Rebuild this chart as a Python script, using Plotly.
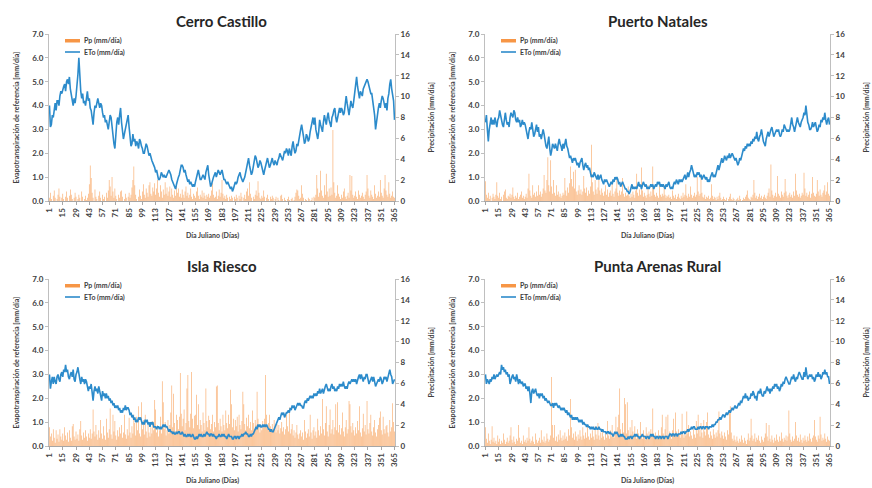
import plotly.graph_objects as go

# ---------------- data ----------------
days = list(range(1, 366))
tick_days = list(range(1, 366, 14))
stations = ["Cerro Castillo", "Puerto Natales", "Isla Riesco", "Punta Arenas Rural"]
legend_names = ["Pp (mm/día)", "ETo (mm/día)"]

cc_eto = [
    4.0, 3.1, 3.2, 3.6, 3.5, 3.9, 4.1, 3.8, 4.2, 4.2, 4.0, 4.4, 4.6, 4.5,
    4.7, 4.8, 4.9, 4.6, 5.0, 5.1, 4.9, 5.2, 4.7, 4.4, 4.3, 4.0, 4.3, 4.1,
    4.4, 4.8, 5.3, 6.0, 5.1, 4.6, 4.3, 4.5, 4.1, 4.2, 4.0, 4.4, 4.6, 4.2,
    4.3, 3.9, 3.8, 3.5, 3.2, 3.7, 4.0, 3.9, 4.1, 4.3, 4.1, 3.9, 4.1, 4.0,
    3.7, 3.5, 3.6, 3.3, 3.4, 3.1, 3.0, 3.3, 3.6, 3.5, 3.0, 2.7, 2.4, 2.2,
    2.8, 3.3, 3.5, 3.2, 3.6, 3.9, 3.3, 2.9, 2.6, 2.8, 3.0, 3.2, 3.4, 3.6,
    3.1, 2.6, 2.3, 2.4, 2.8, 2.5, 2.6, 2.3, 2.5, 2.4, 2.2, 2.6, 2.5, 2.3,
    2.2, 2.0, 2.0, 2.2, 2.4, 2.3, 2.1, 1.9, 2.0, 1.8, 1.7, 1.6, 1.5, 1.4,
    1.2, 1.3, 1.1, 0.9, 0.9, 1.0, 1.2, 1.1, 1.0, 1.1, 1.0, 1.0, 1.1, 1.2,
    1.3, 1.2, 1.1, 0.9, 0.8, 0.7, 0.6, 0.5, 0.7, 0.9, 1.0, 1.1, 1.3, 1.5,
    1.5, 1.4, 1.2, 1.3, 1.1, 0.9, 0.8, 0.9, 0.7, 0.8, 0.7, 0.6, 0.7, 0.6,
    0.8, 1.0, 1.1, 1.3, 1.1, 0.9, 0.9, 1.0, 1.1, 1.0, 0.9, 1.2, 1.4, 1.5,
    1.1, 0.8, 0.6, 0.7, 0.9, 1.0, 1.1, 1.2, 1.0, 1.2, 1.3, 1.2, 1.1, 1.2,
    1.3, 1.1, 0.9, 0.9, 0.8, 0.7, 0.8, 0.7, 0.6, 0.5, 0.6, 0.4, 0.5, 0.7,
    0.8, 0.7, 0.8, 1.0, 1.1, 1.2, 1.0, 0.9, 0.8, 0.9, 1.0, 1.2, 1.4, 1.6,
    1.8, 1.5, 1.3, 1.1, 1.2, 1.4, 1.6, 1.9, 1.8, 1.6, 1.4, 1.5, 1.7, 1.6,
    1.4, 1.2, 1.1, 1.3, 1.5, 1.7, 1.8, 1.6, 1.4, 1.5, 1.7, 1.8, 1.6, 1.5,
    1.7, 1.6, 1.5, 1.7, 1.8, 2.0, 1.9, 1.8, 1.7, 1.9, 2.1, 2.0, 2.2, 2.1,
    1.9, 2.2, 2.0, 1.9, 2.3, 2.5, 2.2, 2.0, 2.1, 2.4, 2.3, 2.6, 2.8, 3.0,
    3.2, 3.0, 2.7, 2.4, 2.5, 2.8, 2.7, 2.5, 2.6, 2.9, 3.1, 3.3, 3.5, 3.2,
    3.5, 3.0, 2.7, 2.6, 2.9, 3.4, 3.2, 3.0, 2.9, 3.3, 3.6, 3.4, 3.2, 3.5,
    3.7, 3.4, 3.2, 3.1, 3.5, 3.6, 3.8, 3.9, 3.5, 3.3, 3.5, 3.8, 3.9, 3.7,
    3.9, 3.8, 3.6, 3.7, 4.0, 4.4, 4.1, 3.8, 3.6, 3.9, 4.2, 4.0, 3.9, 4.2,
    4.6, 5.0, 5.2, 4.8, 4.5, 4.3, 4.6, 4.5, 4.4, 4.7, 4.8, 4.9, 5.0, 5.1,
    5.0, 4.8, 4.7, 4.5, 4.5, 4.2, 3.9, 3.6, 3.0, 3.4, 3.8, 3.9, 4.1, 3.9,
    4.2, 4.4, 4.3, 4.0, 3.9, 4.1, 3.8, 4.3, 4.5, 4.9, 5.1, 4.7, 4.4, 4.2,
    3.4,
]
cc_pp = [
    0.3, 0.8, 0.2, 0, 0.5, 1.0, 0.3, 0, 0.2, 0.6, 1.2, 0.4, 0, 0.3,
    0.7, 0.2, 0, 0.4, 0.9, 0.3, 0, 0.5, 1.1, 0.6, 0.2, 0, 0.3, 0.8,
    0.4, 0, 0.2, 0.6, 0.3, 0, 0.9, 0.4, 0, 0.2, 0.5, 0.1, 0.3, 0.7,
    1.6, 3.4, 2.2, 0.8, 0.3, 0, 1.1, 0.4, 0.2, 0, 0.5, 0.9, 0.3, 0,
    0.6, 0.2, 0.4, 0, 0.8, 0.3, 1.0, 2.0, 1.4, 0.5, 2.3, 0.9, 0.3, 1.2,
    0.5, 0.2, 0, 0.6, 0.3, 0.9, 1.0, 0.4, 0, 0.2, 0.7, 0.3, 0, 0.4,
    0.8, 0.3, 0.6, 1.3, 2.0, 3.3, 1.5, 0.6, 0.2, 0, 0.4, 1.1, 0.5, 0.2,
    0.9, 1.6, 0.6, 0.3, 1.2, 0.8, 0.4, 1.5, 1.8, 0.7, 0.5, 1.3, 0.9, 1.7,
    0.6, 1.2, 2.0, 0.8, 0.4, 1.5, 0.9, 0.3, 1.1, 0.6, 1.8, 0.7, 1.3, 0.5,
    0.9, 1.4, 0.4, 1.2, 0.6, 0.3, 1.0, 0.5, 1.6, 0.8, 1.2, 0.4, 0.7, 0.3,
    1.1, 0.6, 0.3, 0.9, 1.4, 0.5, 0.8, 0.3, 0.6, 1.2, 0.4, 0.2, 0.7, 0.5,
    0.3, 0.9, 1.3, 0.5, 0.2, 0.6, 0.4, 1.0, 0.3, 0.8, 0.5, 0.2, 0.6, 0.4,
    0.7, 0.3, 0.5, 1.0, 1.7, 0.6, 0.3, 0.4, 0.9, 0.2, 0.5, 1.1, 0.4, 0.8,
    2.0, 0.7, 0.3, 0.5, 0.2, 0.6, 0.3, 0, 0.4, 0.2, 0.5, 0.3, 0, 0.4,
    0.2, 0.6, 0.3, 0, 0.5, 0.2, 0.8, 0.4, 0, 0.3, 0.6, 0.2, 0.9, 1.2,
    0.5, 1.8, 0.7, 0.3, 0, 0.4, 0.2, 0.6, 1.0, 0.5, 1.9, 0.8, 0.3, 0.2,
    0.5, 0.3, 1.0, 0.4, 0, 0.3, 0.6, 0.2, 0, 0.4, 0.2, 0.5, 0.3, 0,
    0.2, 0.4, 0, 0.3, 0.1, 0, 0.5, 0.6, 0.2, 0, 0.3, 0.1, 0, 0.2,
    0.4, 0.1, 0, 0.2, 0.3, 0, 0.1, 0.4, 0.8, 1.1, 1.0, 0.5, 0.2, 0.3,
    1.5, 0.7, 0.3, 0, 0.2, 0.1, 0, 0.3, 0.2, 0, 0.1, 0.3, 0, 0.4,
    0.3, 0.6, 2.5, 1.2, 0.4, 0.8, 2.9, 1.0, 0.5, 0.3, 1.5, 0.6, 2.6, 0.9,
    0.4, 1.2, 0.5, 1.3, 0.6, 6.8, 1.8, 0.8, 0.3, 0.5, 1.5, 0.7, 0.4, 0.2,
    0.6, 0.3, 0.9, 1.2, 0.4, 0.2, 0.5, 0.8, 0.3, 2.5, 1.0, 2.4, 0.6, 0.3,
    0.5, 0.9, 0.4, 0.2, 1.0, 0.6, 0.3, 0.5, 0.8, 0.4, 0.2, 0.6, 0.9, 2.5,
    1.2, 0.5, 0.3, 1.0, 0.6, 0.4, 0.2, 1.5, 0.7, 0.3, 0.5, 0.9, 0.4, 2.0,
    0.8, 0.5, 0.3, 1.2, 2.5, 1.0, 0.6, 0.4, 1.8, 0.7, 0.3, 0.5, 0.9, 0.4,
    0.3,
]

pn_eto = [
    3.3, 3.6, 3.0, 2.5, 3.0, 3.3, 3.5, 3.2, 3.4, 3.2, 3.5, 3.3, 3.1, 3.4,
    3.5, 3.8, 3.6, 3.3, 3.2, 3.1, 3.5, 3.7, 3.4, 3.2, 3.3, 3.1, 3.5, 3.7,
    3.6, 3.5, 3.8, 3.7, 3.4, 3.3, 3.5, 3.3, 3.4, 3.1, 3.2, 3.4, 3.2, 3.3,
    3.2, 3.0, 2.8, 2.6, 2.9, 3.1, 3.0, 3.3, 3.0, 2.7, 2.8, 3.0, 3.2, 2.9,
    3.1, 2.7, 2.8, 2.6, 2.9, 3.0, 2.8, 2.4, 2.3, 2.2, 2.6, 2.7, 2.2, 1.9,
    2.1, 2.4, 2.3, 2.2, 2.4, 2.2, 2.1, 2.4, 2.6, 2.4, 2.3, 2.1, 2.4, 2.2,
    2.5, 2.6, 2.3, 2.2, 2.0, 1.8, 1.9, 1.7, 1.6, 1.8, 1.7, 1.8, 1.6, 1.5,
    1.6, 1.4, 1.6, 1.7, 1.8, 1.5, 1.3, 1.5, 1.6, 1.4, 1.5, 1.3, 1.4, 1.2,
    1.0, 1.1, 1.0, 1.2, 1.1, 1.0, 0.9, 1.1, 0.9, 1.0, 1.1, 0.9, 0.8, 0.7,
    0.9, 0.8, 0.9, 0.8, 0.7, 0.6, 0.7, 0.8, 0.7, 0.9, 0.8, 1.0, 0.9, 1.0,
    0.9, 0.7, 0.8, 0.6, 0.7, 0.8, 0.7, 0.6, 0.5, 0.5, 0.4, 0.4, 0.3, 0.4,
    0.6, 0.7, 0.5, 0.6, 0.5, 0.6, 0.5, 0.7, 0.8, 0.6, 0.7, 0.5, 0.7, 0.8,
    0.7, 0.6, 0.7, 0.5, 0.6, 0.5, 0.6, 0.7, 0.6, 0.7, 0.5, 0.6, 0.7, 0.6,
    0.8, 0.7, 0.8, 0.6, 0.7, 0.6, 0.7, 0.6, 0.5, 0.7, 0.6, 0.7, 0.8, 0.6,
    0.5, 0.6, 0.5, 0.7, 0.8, 0.7, 0.9, 0.8, 0.7, 0.9, 0.8, 0.9, 0.8, 0.9,
    1.0, 1.1, 0.9, 1.0, 1.2, 1.0, 1.2, 1.3, 1.5, 1.3, 1.2, 1.0, 1.1, 1.0,
    1.2, 1.1, 1.2, 1.0, 1.1, 0.9, 1.0, 1.1, 1.0, 0.9, 1.0, 0.8, 0.9, 0.8,
    1.0, 1.1, 1.2, 1.0, 1.1, 1.0, 1.2, 1.4, 1.5, 1.3, 1.5, 1.6, 1.8, 1.6,
    1.7, 1.9, 1.8, 1.7, 1.9, 1.8, 2.0, 1.8, 1.9, 2.0, 1.9, 1.8, 1.7, 1.8,
    1.6, 1.5, 1.6, 1.8, 1.7, 1.9, 2.0, 2.2, 2.1, 2.3, 2.2, 2.4, 2.3, 2.4,
    2.3, 2.5, 2.4, 2.6, 2.5, 2.7, 2.6, 2.9, 2.6, 2.5, 2.7, 2.8, 3.0, 2.7,
    2.5, 2.4, 2.3, 2.6, 2.8, 2.9, 2.7, 2.9, 3.0, 3.1, 2.8, 2.7, 2.8, 2.9,
    3.0, 2.9, 3.0, 2.8, 2.7, 2.8, 3.0, 2.9, 3.2, 3.1, 3.0, 2.9, 3.0, 2.9,
    3.0, 3.3, 3.5, 3.2, 3.1, 2.9, 3.1, 3.3, 3.5, 3.3, 3.2, 3.1, 3.3, 3.4,
    3.5, 3.7, 3.6, 4.0, 3.5, 3.3, 3.2, 3.0, 3.0, 3.1, 3.3, 3.1, 3.2, 3.3,
    3.1, 2.9, 3.0, 3.2, 3.1, 3.4, 3.3, 3.5, 3.4, 3.7, 3.4, 3.2, 3.4, 3.5,
    3.2,
]
pn_pp = [
    1.9, 0.6, 0.3, 0.8, 0.2, 0.5, 0, 0.3, 0.7, 0.4, 0.2, 0.6, 1.8, 0.5,
    0.3, 0.8, 0.2, 0.4, 0, 0.6, 0.9, 1.1, 0.3, 0.2, 0.5, 0.4, 0.7, 0.3,
    0.6, 1.3, 0.4, 0.2, 0.5, 0.3, 0.8, 0.2, 0.4, 0.6, 0.9, 0.3, 0.5, 0.2,
    0.4, 0.7, 0.3, 1.2, 2.6, 1.0, 0.5, 0.3, 1.5, 0.6, 0.8, 0.4, 0.9, 0.5,
    1.5, 0.6, 0.9, 0.4, 0.7, 1.2, 2.5, 1.0, 0.8, 2.0, 4.2, 1.5, 0.9, 3.9,
    1.4, 0.7, 2.0, 0.8, 0.5, 1.5, 0.6, 0.9, 0.4, 0.7, 0.3, 0.5, 0.8, 0.6,
    2.2, 1.0, 0.5, 1.3, 0.8, 1.7, 3.3, 2.1, 1.4, 2.8, 1.2, 3.0, 0.9, 0.6,
    1.0, 1.5, 0.7, 1.1, 0.6, 0.9, 2.4, 1.2, 0.8, 1.3, 0.5, 1.0, 0.7, 1.4,
    5.4, 1.8, 0.9, 0.6, 2.0, 1.1, 0.7, 1.3, 2.5, 1.0, 0.6, 1.2, 0.8, 0.5,
    0.9, 1.5, 0.6, 1.1, 0.4, 0.8, 1.0, 0.5, 1.7, 0.7, 0.4, 0.9, 1.2, 2.3,
    0.8, 0.5, 1.0, 0.6, 0.9, 2.2, 0.7, 0.4, 0.8, 0.5, 0.6, 1.4, 0.5, 0.3,
    0.7, 0.4, 0.9, 0.6, 0.3, 1.0, 2.6, 0.8, 0.5, 1.1, 0.6, 3.2, 1.0, 0.4,
    0.8, 0.5, 0.3, 0.6, 1.5, 0.7, 0.4, 0.9, 0.5, 3.3, 1.2, 0.6, 0.4, 0.8,
    0.5, 0.3, 1.8, 0.6, 0.4, 0.7, 0.5, 1.5, 0.6, 0.3, 0.5, 0.4, 0.6, 0.3,
    0.4, 0.2, 1.0, 0.5, 0.3, 0.6, 0.2, 0.4, 0.7, 0.3, 0.2, 0.5, 0.3, 0.8,
    0.4, 0.6, 1.6, 0.5, 0.3, 0.7, 0.4, 1.4, 0.6, 0.3, 0.5, 0.8, 0.4, 0.6,
    2.3, 0.9, 0.5, 0.7, 2.4, 0.8, 0.4, 0.3, 0.6, 0.2, 0.4, 0.3, 0.5, 0.2,
    0.3, 1.6, 0.5, 0.2, 0.4, 0.3, 0.1, 0.4, 0.2, 0.5, 0.8, 0.3, 0.1, 0.2,
    0.4, 0.2, 0.1, 0.3, 0, 0.2, 0.4, 0.7, 0.2, 0.1, 0.3, 0.2, 0, 0.1,
    0.2, 0.3, 0.1, 0.5, 0.2, 0, 0.1, 0.3, 0.2, 0.4, 0.6, 1.0, 0.3, 0.2,
    0.1, 0.4, 0.3, 0.6, 2.0, 0.8, 0.3, 0.5, 0.2, 0.4, 0.7, 0.3, 0.5, 0.2,
    0.4, 0.6, 0.3, 0.2, 0.5, 0.8, 1.2, 0.4, 3.5, 1.0, 0.6, 0.3, 0.5, 0.8,
    0.4, 2.4, 0.7, 0.5, 0.3, 0.9, 0.6, 0.4, 0.8, 2.1, 0.9, 0.5, 0.3, 0.6,
    0.8, 0.4, 0.6, 0.3, 0.9, 0.5, 2.6, 1.0, 0.6, 0.4, 0.7, 0.3, 0.5, 0.8,
    0.6, 2.7, 1.2, 0.5, 0.8, 0.4, 0.6, 0.9, 0.3, 0.7, 2.3, 0.8, 0.5, 0.4,
    0.7, 2.0, 0.9, 0.5, 1.1, 0.6, 0.4, 0.8, 1.0, 1.5, 0.6, 0.9, 1.8, 0.7,
    0.5,
]

ir_eto = [
    3.0, 2.4, 2.7, 2.9, 2.6, 2.9, 2.7, 2.6, 2.9, 3.0, 2.8, 2.7, 3.0, 3.1,
    2.9, 3.2, 3.1, 3.4, 3.1, 3.2, 2.9, 2.8, 3.0, 3.1, 2.9, 3.2, 2.8, 2.7,
    3.0, 3.1, 3.3, 2.9, 2.8, 2.6, 2.9, 2.7, 2.8, 2.6, 2.8, 2.7, 2.4, 2.3,
    2.5, 2.4, 2.6, 2.2, 1.9, 2.3, 2.5, 2.3, 2.4, 2.2, 2.5, 2.3, 2.0, 1.9,
    2.3, 2.1, 2.2, 2.0, 2.2, 2.0, 2.1, 1.9, 2.0, 1.8, 1.9, 1.7, 1.8, 1.6,
    1.7, 1.6, 1.7, 1.5, 1.6, 1.4, 1.5, 1.4, 1.6, 1.5, 1.7, 1.5, 1.6, 1.6,
    1.5, 1.3, 1.4, 1.2, 1.3, 1.1, 1.2, 1.0, 1.1, 1.0, 1.2, 1.1, 1.2, 1.0,
    0.9, 1.0, 0.9, 1.1, 1.0, 1.1, 0.9, 1.0, 0.8, 1.0, 0.9, 1.0, 0.8, 0.8,
    0.8, 0.7, 0.8, 0.8, 0.7, 0.8, 0.7, 0.8, 0.9, 0.8, 0.9, 0.8, 0.8, 0.7,
    0.6, 0.7, 0.6, 0.6, 0.5, 0.6, 0.5, 0.5, 0.6, 0.5, 0.6, 0.6, 0.5, 0.5,
    0.6, 0.5, 0.4, 0.5, 0.4, 0.4, 0.5, 0.4, 0.5, 0.4, 0.4, 0.5, 0.4, 0.3,
    0.3, 0.4, 0.3, 0.4, 0.5, 0.4, 0.5, 0.4, 0.4, 0.5, 0.4, 0.5, 0.6, 0.5,
    0.5, 0.4, 0.5, 0.5, 0.4, 0.5, 0.4, 0.4, 0.3, 0.4, 0.4, 0.5, 0.4, 0.4,
    0.5, 0.4, 0.5, 0.4, 0.4, 0.3, 0.4, 0.5, 0.4, 0.4, 0.4, 0.3, 0.3, 0.4,
    0.4, 0.3, 0.4, 0.4, 0.3, 0.4, 0.4, 0.5, 0.4, 0.5, 0.5, 0.6, 0.5, 0.5,
    0.4, 0.4, 0.5, 0.4, 0.5, 0.5, 0.6, 0.7, 0.8, 0.7, 0.9, 0.8, 0.9, 0.8,
    0.8, 0.9, 0.8, 0.9, 0.8, 0.9, 0.8, 0.7, 0.7, 0.6, 0.7, 0.6, 0.6, 0.7,
    0.8, 0.9, 1.0, 1.1, 1.2, 1.1, 1.3, 1.4, 1.3, 1.4, 1.2, 1.3, 1.4, 1.4,
    1.5, 1.4, 1.6, 1.5, 1.7, 1.6, 1.7, 1.5, 1.6, 1.7, 1.8, 1.7, 1.8, 1.7,
    1.7, 1.6, 1.6, 1.8, 1.9, 1.8, 2.0, 1.9, 2.0, 2.1, 2.0, 2.1, 2.0, 2.2,
    2.1, 2.2, 2.1, 2.3, 2.2, 2.4, 2.2, 2.3, 2.4, 2.2, 2.4, 2.5, 2.6, 2.4,
    2.3, 2.4, 2.3, 2.5, 2.6, 2.4, 2.5, 2.3, 2.4, 2.3, 2.5, 2.4, 2.6, 2.5,
    2.6, 2.5, 2.7, 2.5, 2.4, 2.5, 2.4, 2.6, 2.7, 2.6, 2.7, 2.8, 2.7, 2.8,
    2.7, 2.8, 2.6, 2.8, 2.9, 3.0, 2.8, 3.0, 2.8, 2.7, 2.9, 2.8, 3.0, 3.0,
    2.8, 2.6, 2.7, 2.8, 2.9, 2.7, 2.9, 2.7, 2.5, 2.6, 2.7, 2.8, 2.7, 2.9,
    2.8, 2.6, 2.7, 2.9, 2.8, 2.9, 2.7, 2.9, 3.1, 3.2, 3.0, 2.9, 2.6, 2.7,
    2.8,
]
ir_pp = [
    1.8, 0.9, 1.2, 0.5, 1.6, 0.8, 0.3, 1.5, 0.7, 1.1, 0.4, 1.6, 0.9, 0.6,
    1.2, 0.5, 1.8, 1.0, 0.6, 1.3, 0.4, 1.5, 0.8, 0.5, 1.9, 2.1, 0.9, 0.6,
    1.4, 0.7, 1.1, 0.5, 1.6, 2.4, 1.0, 0.6, 1.3, 0.8, 1.5, 0.9, 0.5, 1.2,
    0.8, 1.6, 0.7, 1.2, 3.5, 1.4, 0.9, 2.0, 1.1, 0.6, 1.5, 0.8, 2.5, 1.2,
    0.7, 1.9, 1.0, 0.6, 2.6, 1.3, 0.8, 1.6, 3.6, 1.1, 0.7, 3.0, 1.4, 2.4,
    1.0, 0.6, 1.5, 0.9, 1.8, 1.2, 2.0, 0.8, 1.3, 3.0, 1.1, 0.7, 1.6, 1.0,
    2.7, 1.3, 0.8, 1.9, 1.2, 3.0, 2.2, 1.0, 2.8, 1.5, 3.8, 1.2, 0.9, 4.2,
    1.6, 2.5, 1.1, 3.0, 1.4, 0.8, 2.0, 1.3, 0.9, 1.8, 1.2, 2.4, 1.5, 4.4,
    3.5, 1.3, 2.0, 0.9, 1.5, 2.8, 1.2, 6.2, 4.2, 1.6, 2.3, 1.0, 1.5, 2.5,
    1.2, 2.0, 3.2, 5.8, 1.8, 5.0, 2.2, 1.4, 3.0, 2.5, 1.6, 2.8, 7.0, 3.1,
    1.9, 2.6, 3.5, 1.5, 2.2, 5.5, 6.8, 2.4, 1.8, 3.1, 7.1, 2.6, 1.7, 2.9,
    3.0, 4.9, 2.0, 4.0, 1.6, 2.5, 2.0, 1.4, 3.2, 2.2, 1.5, 5.5, 2.4, 1.8,
    2.9, 2.5, 1.6, 2.1, 3.0, 1.4, 2.3, 1.8, 5.7, 5.8, 2.2, 1.5, 2.6, 1.9,
    1.4, 3.0, 2.0, 1.5, 3.4, 2.2, 1.7, 3.0, 2.1, 5.4, 4.0, 1.8, 2.6, 1.5,
    2.5, 1.9, 2.8, 1.4, 3.0, 2.0, 1.6, 2.4, 5.2, 4.0, 2.1, 1.5, 2.7, 1.9,
    3.0, 1.7, 2.3, 1.5, 3.4, 2.2, 1.6, 2.5, 2.0, 5.2, 2.6, 1.8, 1.3, 2.0,
    1.5, 2.4, 1.8, 2.6, 6.8, 3.0, 1.6, 2.2, 3.0, 1.9, 1.4, 2.1, 1.6, 2.5,
    1.8, 1.3, 2.1, 1.5, 2.0, 1.2, 1.7, 2.3, 1.4, 1.8, 1.1, 1.6, 3.0, 1.9,
    1.4, 3.7, 1.2, 1.6, 2.1, 1.0, 1.5, 0.8, 1.3, 2.0, 1.1, 0.7, 1.2, 1.5,
    0.9, 1.3, 0.6, 2.5, 1.4, 0.8, 1.2, 1.6, 0.9, 3.0, 1.3, 0.7, 1.5, 1.8,
    1.0, 1.4, 0.8, 2.6, 1.5, 1.0, 1.9, 1.2, 4.5, 1.6, 1.0, 2.2, 3.8, 1.4,
    0.9, 2.0, 3.5, 1.2, 1.6, 2.5, 1.1, 1.8, 4.0, 1.5, 4.2, 1.3, 2.0, 1.1,
    1.7, 3.2, 1.4, 0.9, 1.8, 2.5, 1.2, 1.6, 4.3, 4.0, 1.9, 1.3, 2.2, 1.5,
    1.0, 1.8, 1.2, 2.4, 1.5, 3.8, 1.3, 0.9, 1.7, 3.1, 1.4, 2.0, 1.1, 4.3,
    1.6, 1.2, 2.2, 3.0, 1.4, 1.0, 1.8, 2.5, 1.3, 0.9, 1.6, 2.0, 2.7, 3.3,
    1.5, 1.1, 2.8, 1.6, 1.2, 1.9, 2.0, 1.3, 0.9, 2.5, 1.4, 1.8, 4.1, 2.3,
    1.4,
]

pa_eto = [
    3.0, 2.6, 2.8, 2.7, 2.6, 2.8, 2.7, 2.9, 2.8, 3.0, 2.8, 2.9, 3.0, 2.9,
    3.0, 3.1, 3.0, 3.4, 3.2, 3.3, 3.1, 3.2, 3.0, 3.1, 2.9, 3.0, 2.6, 2.8,
    2.9, 3.0, 2.8, 2.9, 2.7, 3.0, 2.8, 2.6, 2.8, 2.7, 2.6, 2.7, 2.5, 2.6,
    2.6, 2.4, 2.5, 2.3, 2.5, 2.2, 1.8, 2.3, 2.4, 2.2, 2.3, 2.4, 2.2, 2.1,
    2.2, 2.0, 2.2, 2.1, 2.2, 2.0, 2.1, 1.9, 2.0, 1.9, 1.8, 1.9, 1.8, 1.7,
    1.7, 1.8, 1.6, 1.8, 1.7, 1.8, 1.7, 1.6, 1.7, 1.6, 1.5, 1.6, 1.5, 1.6,
    1.5, 1.4, 1.5, 1.3, 1.4, 1.3, 1.2, 1.3, 1.1, 1.2, 1.1, 1.2, 1.1, 1.2,
    1.1, 1.0, 1.1, 1.0, 1.1, 0.9, 1.0, 0.9, 0.9, 0.8, 0.9, 0.8, 0.8, 0.7,
    0.8, 0.7, 0.8, 0.7, 0.7, 0.8, 0.7, 0.7, 0.8, 0.7, 0.7, 0.6, 0.7, 0.6,
    0.6, 0.6, 0.5, 0.6, 0.6, 0.5, 0.6, 0.5, 0.5, 0.4, 0.5, 0.6, 0.5, 0.6,
    0.5, 0.4, 0.4, 0.5, 0.4, 0.5, 0.4, 0.4, 0.3, 0.3, 0.3, 0.4, 0.3, 0.4,
    0.4, 0.3, 0.4, 0.4, 0.5, 0.4, 0.5, 0.4, 0.4, 0.3, 0.4, 0.4, 0.5, 0.4,
    0.4, 0.4, 0.3, 0.4, 0.4, 0.3, 0.4, 0.5, 0.4, 0.5, 0.4, 0.4, 0.3, 0.4,
    0.4, 0.3, 0.4, 0.4, 0.3, 0.4, 0.4, 0.3, 0.4, 0.4, 0.4, 0.3, 0.4, 0.5,
    0.5, 0.4, 0.5, 0.5, 0.4, 0.5, 0.5, 0.4, 0.5, 0.5, 0.5, 0.6, 0.5, 0.6,
    0.6, 0.5, 0.6, 0.6, 0.7, 0.6, 0.7, 0.7, 0.8, 0.7, 0.8, 0.8, 0.7, 0.7,
    0.7, 0.8, 0.7, 0.8, 0.8, 0.7, 0.8, 0.8, 0.7, 0.8, 0.8, 0.8, 0.7, 0.8,
    0.8, 0.8, 0.9, 0.8, 0.9, 0.9, 1.0, 1.0, 1.1, 1.1, 1.2, 1.1, 1.2, 1.3,
    1.3, 1.2, 1.3, 1.4, 1.3, 1.4, 1.5, 1.4, 1.5, 1.6, 1.5, 1.6, 1.7, 1.6,
    1.6, 1.7, 1.8, 1.7, 1.9, 1.8, 2.0, 2.1, 2.0, 2.2, 2.0, 2.1, 1.9, 2.0,
    2.0, 2.2, 2.1, 2.3, 2.2, 2.0, 2.1, 1.9, 2.2, 2.3, 2.2, 2.4, 2.2, 2.1,
    2.1, 2.3, 2.2, 2.4, 2.5, 2.3, 2.4, 2.2, 2.4, 2.3, 2.5, 2.4, 2.6, 2.5,
    2.6, 2.4, 2.5, 2.3, 2.4, 2.6, 2.5, 2.7, 2.6, 2.8, 2.9, 2.8, 2.7, 2.6,
    2.6, 2.8, 2.9, 2.8, 3.0, 2.8, 2.7, 2.9, 2.8, 3.0, 3.1, 3.0, 2.9, 2.8,
    2.8, 3.1, 2.9, 3.3, 3.0, 2.8, 2.9, 3.0, 2.9, 3.0, 2.8, 2.9, 2.7, 2.8,
    3.0, 2.9, 3.1, 2.9, 3.0, 2.8, 2.9, 3.1, 3.0, 3.2, 3.0, 3.1, 2.9, 2.9,
    2.6,
]
pa_pp = [
    1.8, 0.7, 0.3, 1.2, 0.5, 0.2, 0.6, 1.9, 0.4, 0.8, 0.3, 0.5, 0.2, 1.0,
    0.4, 0.7, 0.2, 0.5, 0.3, 1.2, 0.6, 0.2, 0.4, 0.8, 0.3, 0.5, 1.0, 1.8,
    0.6, 0.3, 0.9, 0.4, 0.2, 0.7, 0.5, 2.0, 0.8, 0.3, 0.5, 0.2, 1.0, 0.4,
    0.6, 0.3, 0.8, 0.5, 1.8, 0.7, 0.3, 0.5, 0.9, 0.4, 0.2, 1.2, 0.6, 0.3,
    0.5, 0.8, 0.3, 1.5, 0.6, 0.4, 0.9, 0.3, 0.5, 1.2, 0.7, 0.4, 0.6, 1.0,
    6.6, 2.0, 0.8, 2.0, 0.5, 0.9, 0.4, 1.1, 0.6, 1.5, 0.8, 0.5, 1.0, 0.6,
    1.3, 0.7, 0.9, 0.5, 1.6, 1.0, 4.5, 1.8, 0.8, 1.2, 0.6, 1.4, 0.9, 0.5,
    1.1, 0.7, 1.5, 0.9, 0.6, 1.8, 1.0, 0.7, 1.3, 0.8, 2.0, 0.9, 0.6, 1.2,
    0.8, 1.5, 0.9, 0.6, 1.9, 1.1, 0.7, 2.2, 1.0, 0.6, 1.3, 0.8, 1.6, 0.9,
    0.6, 1.2, 0.8, 2.4, 1.0, 0.7, 1.5, 0.9, 2.0, 1.1, 0.8, 1.4, 2.8, 1.2,
    1.8, 3.0, 5.5, 1.6, 1.0, 2.2, 1.3, 4.6, 4.0, 1.2, 4.2, 1.5, 0.9, 1.8,
    1.1, 2.5, 1.4, 0.8, 1.9, 1.0, 0.7, 1.6, 1.2, 0.8, 2.3, 1.1, 0.7, 1.5,
    1.0, 0.6, 1.8, 1.2, 0.8, 1.4, 0.9, 1.6, 1.1, 3.6, 1.2, 0.8, 1.3, 0.9,
    0.7, 1.5, 1.0, 0.8, 1.8, 3.0, 1.2, 0.9, 1.6, 2.8, 1.0, 3.0, 0.8, 1.4,
    1.1, 0.7, 1.5, 2.6, 1.0, 3.2, 1.4, 0.9, 1.6, 1.2, 0.8, 1.4, 3.1, 1.1,
    0.8, 1.5, 1.0, 3.3, 1.2, 2.0, 0.9, 1.4, 1.0, 0.7, 1.6, 1.1, 0.8, 2.4,
    1.2, 3.0, 1.5, 0.9, 2.2, 1.3, 0.8, 2.5, 1.4, 1.0, 2.3, 3.2, 1.1, 0.8,
    1.4, 1.0, 0.7, 1.6, 1.1, 0.8, 1.3, 0.9, 1.5, 3.3, 1.2, 0.8, 1.4, 1.0,
    0.7, 1.3, 0.9, 0.6, 1.5, 1.1, 3.2, 3.8, 1.3, 0.7, 0.5, 1.0, 0.6, 0.4,
    0.9, 0.5, 0.3, 0.7, 0.4, 1.0, 0.6, 0.3, 0.8, 0.5, 0.2, 0.6, 1.2, 0.5,
    0.8, 2.6, 1.0, 0.5, 0.7, 1.2, 0.4, 0.8, 0.6, 1.0, 0.5, 0.3, 0.9, 0.6,
    0.4, 0.8, 1.2, 2.2, 0.9, 0.5, 2.0, 0.7, 0.4, 1.0, 0.6, 0.3, 0.8, 0.5,
    1.1, 0.6, 0.4, 0.9, 0.5, 1.3, 0.7, 0.4, 0.8, 0.6, 1.0, 0.5, 0.9, 3.4,
    1.2, 0.6, 0.4, 0.9, 0.5, 0.7, 2.3, 1.0, 0.5, 0.8, 0.4, 1.1, 0.6, 0.3,
    0.8, 0.5, 1.0, 0.6, 0.4, 0.9, 0.5, 1.2, 0.7, 0.4, 0.8, 1.0, 2.5, 0.9,
    0.6, 0.4, 1.0, 0.7, 2.8, 1.1, 0.5, 0.8, 0.6, 1.2, 0.7, 0.4, 0.9, 0.6,
    0.5,
]

eto_series = [cc_eto, pn_eto, ir_eto, pa_eto]
pp_series = [cc_pp, pn_pp, ir_pp, pa_pp]
for s in eto_series + pp_series:
    assert len(s) == 365, len(s)

# ---------------- styling / layout ----------------
W, H = 872, 488
FONT = "Lato"
TXT = "#404040"
AXLINE = "#BFBFBF"
BAR_COLOR = "rgba(247,150,70,0.78)"
LEG_BAR = "#F79646"
LINE_COLOR = "#2C8BCB"

# plot-area rectangles in pixels: (left, right, top, bottom)
panels = [(49, 395, 34, 201), (485, 830, 34, 201),
          (49, 395, 279, 446), (485, 830, 279, 446)]

fig = go.Figure()
layout = dict(
    width=W, height=H,
    margin=dict(l=0, r=0, t=0, b=0, autoexpand=False),
    paper_bgcolor="white", plot_bgcolor="rgba(0,0,0,0)",
    bargap=0.3, showlegend=False, hovermode=False,
    font=dict(family=FONT, size=8, color=TXT),
)
annotations = []
shapes = []
tickfont = dict(family=FONT, size=8, color=TXT, weight="bold")
small_bold = dict(family=FONT, size=7, color=TXT, weight="bold")


def px(x):
    return x / W


def py(y):
    return 1 - y / H


for i, (l, r, t, b) in enumerate(panels):
    xd = [px(l), px(r)]
    yd = [py(b), py(t)]
    xk = "x" if i == 0 else f"x{i + 1}"
    ybar = f"y{2 * i + 1}" if i > 0 else "y"
    yline = f"y{2 * i + 2}"

    fig.add_trace(go.Bar(x=days, y=pp_series[i], name=legend_names[0],
                         marker=dict(color=BAR_COLOR, line=dict(width=0)),
                         xaxis=xk, yaxis=ybar))
    fig.add_trace(go.Scatter(x=days, y=eto_series[i], name=legend_names[1],
                             mode="lines", line=dict(color=LINE_COLOR, width=1.6),
                             xaxis=xk, yaxis=yline))

    xname = "xaxis" if i == 0 else f"xaxis{i + 1}"
    ybarname = "yaxis" if i == 0 else f"yaxis{2 * i + 1}"
    ylinename = f"yaxis{2 * i + 2}"

    layout[xname] = dict(domain=xd, anchor=ybar, range=[0.5, 365.5],
                         tickmode="array", tickvals=tick_days,
                         ticktext=[str(d) for d in tick_days], tickangle=-90,
                         showline=True, linecolor="#A6A6A6", linewidth=1,
                         ticks="outside", ticklen=3, tickcolor="#A6A6A6",
                         showgrid=False, zeroline=False, tickfont=tickfont,
                         automargin=False)
    layout[ybarname] = dict(domain=yd, anchor=xk, side="right", range=[0, 16],
                            dtick=2, tick0=0, showline=True, linecolor=AXLINE,
                            ticks="outside", ticklen=3, tickcolor=AXLINE,
                            showgrid=False, zeroline=False, tickfont=tickfont,
                            automargin=False)
    layout[ylinename] = dict(overlaying=ybar, anchor=xk, side="left", range=[0, 7],
                             dtick=1, tick0=0, tickformat=".1f", showline=True,
                             linecolor=AXLINE, ticks="outside", ticklen=3,
                             tickcolor=AXLINE, showgrid=False, zeroline=False,
                             tickfont=tickfont, automargin=False)

    # legend (drawn as keys + text)
    shapes.append(dict(type="rect", xref="paper", yref="paper",
                       x0=px(l + 16), x1=px(l + 31), y0=py(t + 8.5), y1=py(t + 5),
                       fillcolor=LEG_BAR, line=dict(width=0)))
    shapes.append(dict(type="line", xref="paper", yref="paper",
                       x0=px(l + 16), x1=px(l + 31), y0=py(t + 18), y1=py(t + 18),
                       line=dict(color=LINE_COLOR, width=1.6)))
    annotations.append(dict(text=legend_names[0], x=px(l + 33), y=py(t + 6.8),
                            xref="paper", yref="paper", showarrow=False,
                            xanchor="left", yanchor="middle", font=small_bold))
    annotations.append(dict(text=legend_names[1], x=px(l + 33), y=py(t + 18),
                            xref="paper", yref="paper", showarrow=False,
                            xanchor="left", yanchor="middle", font=small_bold))

    cx = (l + r) / 2
    # panel title
    annotations.append(dict(text=stations[i], x=px(cx), y=py(t - 13),
                            xref="paper", yref="paper", showarrow=False,
                            xanchor="center", yanchor="middle",
                            font=dict(family=FONT, size=15, color="#262626",
                                      weight="bold")))
    # x axis title
    annotations.append(dict(text="Día Juliano (Días)", x=px(cx - 10),
                            y=py(b + 34), xref="paper", yref="paper",
                            showarrow=False, xanchor="center", yanchor="middle",
                            font=small_bold))
    # left y title
    annotations.append(dict(text="Evapotranspiración de referencia [mm/día]",
                            x=px(l - 34), y=py((t + b) / 2),
                            xref="paper", yref="paper", showarrow=False,
                            textangle=-90, xanchor="center", yanchor="middle",
                            font=small_bold))
    # right y title
    annotations.append(dict(text="Precipitación [mm/día]",
                            x=px(r + 35), y=py((t + b) / 2),
                            xref="paper", yref="paper", showarrow=False,
                            textangle=-90, xanchor="center", yanchor="middle",
                            font=small_bold))

layout["annotations"] = annotations
layout["shapes"] = shapes
fig.update_layout(**layout)
fig.write_html("out.html", config={"displayModeBar": False},
               post_script="document.body.style.margin='0';")
